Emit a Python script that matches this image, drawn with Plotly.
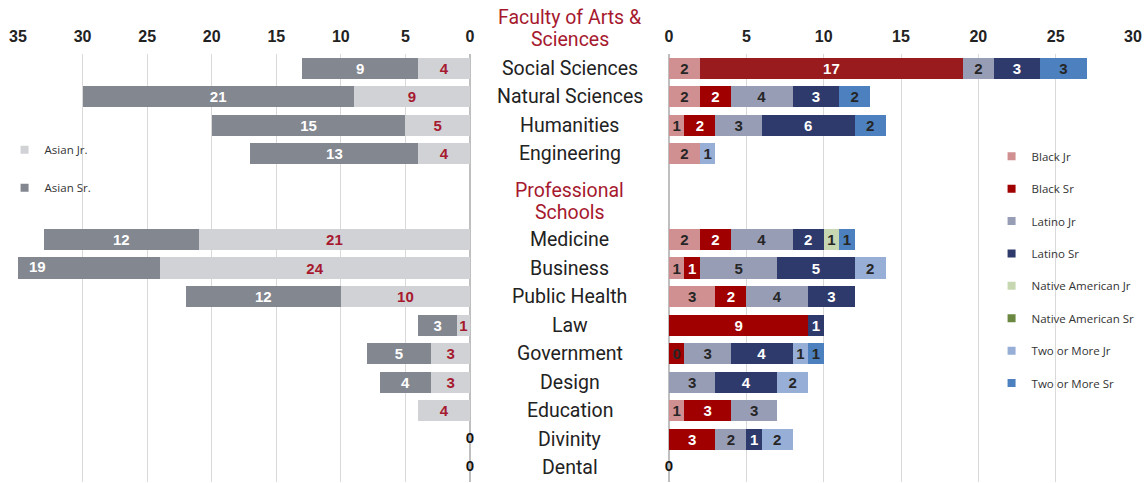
import plotly.graph_objects as go

# ---------------- data ----------------
fas_categories = ["Social Sciences", "Natural Sciences", "Humanities", "Engineering"]
prof_categories = ["Medicine", "Business", "Public Health", "Law", "Government",
                   "Design", "Education", "Divinity", "Dental"]
fas_header = ["Faculty of Arts &", "Sciences"]
prof_header = ["Professional", "Schools"]

asian_jr = [4, 9, 5, 4, 21, 24, 10, 1, 3, 3, 4, 0, 0]
asian_sr = [9, 21, 15, 13, 12, 19, 12, 3, 5, 4, 0, 0, 0]

black_jr = [2, 2, 1, 2, 2, 1, 3, 0, 0, 0, 1, 0, 0]
black_sr = [17, 2, 2, 0, 2, 1, 2, 9, 1, 0, 3, 3, 0]
latino_jr = [2, 4, 3, 0, 4, 5, 4, 0, 3, 3, 3, 2, 0]
latino_sr = [3, 3, 6, 0, 2, 5, 3, 1, 4, 4, 0, 1, 0]
native_jr = [0, 0, 0, 0, 1, 0, 0, 0, 0, 0, 0, 0, 0]
native_sr = [0, 0, 0, 0, 0, 0, 0, 0, 0, 0, 0, 0, 0]
two_jr = [0, 0, 0, 1, 0, 2, 0, 0, 1, 2, 0, 2, 0]
two_sr = [3, 2, 2, 0, 1, 0, 0, 0, 1, 0, 0, 0, 0]
# the Government "Black Sr" segment is labelled 0 in the source chart
black_sr_label_override = {8: "0"}

left_ticks = [35, 30, 25, 20, 15, 10, 5, 0]
right_ticks = [0, 5, 10, 15, 20, 25, 30]
LEFT_MAX = 35
RIGHT_MAX = 30

# ---------------- layout helpers ----------------
categories = fas_categories + prof_categories
gap_rows = 2
ypos = list(range(len(fas_categories))) + [len(fas_categories) + gap_rows + i for i in range(len(prof_categories))]
n_rows = len(fas_categories) + gap_rows + len(prof_categories)

RED_TXT = "#A6192E"
DARK_TXT = "#262626"
LBL_FONT = "Liberation Sans"
LBL_SIZE = 15
BAR_W = 0.74
LEG_FONT = dict(family="Open Sans", size=11.5, color="#333")


def labels(vals, override=None, starts=None, axmax=None):
    out = [str(v) if v != 0 else "" for v in vals]
    if starts is not None:
        for i, (s, v) in enumerate(zip(starts, vals)):
            if s + v > axmax:
                out[i] = ""  # drawn separately (bar runs past the axis)
    if override:
        for k, v in override.items():
            out[k] = v
    return out


def legend_entry(name, col, legend):
    # small square legend swatch tied to the bar trace of the same group
    return go.Scatter(x=[None], y=[None], mode="markers", name=name,
                      marker=dict(symbol="square", size=8, color=col),
                      legend=legend, legendgroup=name, showlegend=True,
                      xaxis="x2" if legend == "legend2" else "x", yaxis="y",
                      hoverinfo="skip")


fig = go.Figure()

# ---------- left panel (Asian) ----------
left_series = [
    ("Asian Jr.", asian_jr, "#D1D2D6", RED_TXT),
    ("Asian Sr.", asian_sr, "#83878F", "white"),
]
base = [0] * len(ypos)
overflow_pts = []
for name, vals, col, tcol in left_series:
    fig.add_trace(go.Bar(
        y=ypos, x=vals, orientation="h", name=name, width=BAR_W,
        marker=dict(color=col, line=dict(width=0)),
        text=labels(vals, starts=base, axmax=LEFT_MAX), textposition="inside",
        insidetextanchor="middle", textangle=0,
        textfont=dict(family=LBL_FONT, size=LBL_SIZE, color=tcol, weight="bold"),
        xaxis="x", yaxis="y", legendgroup=name, showlegend=False,
        hoverinfo="x+name",
    ))
    fig.add_trace(legend_entry(name, col, "legend"))
    for i, (s, v) in enumerate(zip(base, vals)):
        if v and s + v > LEFT_MAX:
            overflow_pts.append((s + v / 2, ypos[i], str(v), tcol))
    base = [b + v for b, v in zip(base, vals)]

if overflow_pts:
    fig.add_trace(go.Scatter(
        x=[p[0] for p in overflow_pts], y=[p[1] for p in overflow_pts],
        text=[p[2] for p in overflow_pts], mode="text", cliponaxis=False,
        textfont=dict(family=LBL_FONT, size=LBL_SIZE,
                      color=[p[3] for p in overflow_pts], weight="bold"),
        xaxis="x", yaxis="y", showlegend=False, hoverinfo="skip"))

# ---------- right panel ----------
right_series = [
    ("Black Jr", black_jr, "#D09091", DARK_TXT, None),
    ("Black Sr", black_sr, "#A00000", "white", black_sr_label_override),
    ("Latino Jr", latino_jr, "#989DB6", DARK_TXT, None),
    ("Latino Sr", latino_sr, "#2E3A6B", "white", None),
    ("Native American Jr", native_jr, "#C6D7B2", DARK_TXT, None),
    ("Native American Sr", native_sr, "#6A8840", "white", None),
    ("Two or More Jr", two_jr, "#97AED6", DARK_TXT, None),
    ("Two or More Sr", two_sr, "#4C80BE", DARK_TXT, None),
]
for name, vals, col, tcol, ov in right_series:
    cols = [col] * len(vals)
    tcols = [tcol] * len(vals)
    if name == "Black Sr":
        cols[0] = "#991B1E"
        for k in (ov or {}):
            tcols[k] = DARK_TXT
    fig.add_trace(go.Bar(
        y=ypos, x=vals, orientation="h", name=name, width=BAR_W,
        marker=dict(color=cols, line=dict(width=0)),
        text=labels(vals, ov), textposition="inside", insidetextanchor="middle",
        textangle=0,
        textfont=dict(family=LBL_FONT, size=LBL_SIZE, color=tcols, weight="bold"),
        xaxis="x2", yaxis="y", legendgroup=name, showlegend=False,
        hoverinfo="x+name",
    ))
    fig.add_trace(legend_entry(name, col, "legend2"))

# ---------- zero-total labels ----------
left_tot = [a + b for a, b in zip(asian_jr, asian_sr)]
right_tot = [sum(v) for v in zip(black_jr, black_sr, latino_jr, latino_sr,
                                 native_jr, native_sr, two_jr, two_sr)]
for tots, xa in ((left_tot, "x"), (right_tot, "x2")):
    zy = [y for y, t in zip(ypos, tots) if t == 0]
    fig.add_trace(go.Scatter(
        x=[0] * len(zy), y=zy, mode="text", text=["0"] * len(zy),
        textposition="middle center", cliponaxis=False,
        textfont=dict(family=LBL_FONT, size=LBL_SIZE, color="#111", weight="bold"),
        xaxis=xa, yaxis="y", showlegend=False, hoverinfo="skip",
    ))

# ---------- center labels ----------
CENTER_X = 0.4975
CAT_SIZE = 19.5
HEADER_LINE = 0.77  # line spacing of headers, in rows


def row_to_paper(r):
    return 1 - (r + 0.5) / n_rows


annots = []
for cat, y in zip(categories, ypos):
    annots.append(dict(text=cat, x=CENTER_X, xref="paper", y=y, yref="y",
                       showarrow=False, xanchor="center", yanchor="middle",
                       font=dict(family="Roboto", size=CAT_SIZE, color="#222")))
for lines, center in ((fas_header, -1.4), (prof_header, len(fas_categories) + 0.655)):
    for k, line in enumerate(lines):
        r = center + (k - (len(lines) - 1) / 2) * HEADER_LINE
        annots.append(dict(text=line, x=CENTER_X, xref="paper", y=row_to_paper(r),
                           yref="paper", showarrow=False, xanchor="center",
                           yanchor="middle",
                           font=dict(family="Roboto", size=CAT_SIZE, color=RED_TXT)))

tickfont = dict(family=LBL_FONT, size=16, color="#222", weight="bold")
W, H = 1145, 483

fig.update_layout(
    width=W, height=H,
    margin=dict(l=0, r=0, t=54, b=1, autoexpand=False),
    paper_bgcolor="white", plot_bgcolor="white",
    barmode="stack",
    uniformtext=dict(minsize=LBL_SIZE, mode="show"),
    showlegend=True,
    xaxis=dict(domain=[18 / W, 470 / W], range=[LEFT_MAX, 0], side="top", anchor="y",
               tickvals=left_ticks, tickfont=tickfont, showgrid=True,
               gridcolor="#D9D9D9", gridwidth=1, zeroline=True,
               zerolinecolor="#BFBFBF", zerolinewidth=2, ticks="",
               ticklabelstandoff=8, automargin=False, fixedrange=True),
    xaxis2=dict(domain=[669 / W, 1133 / W], range=[0, RIGHT_MAX], side="top", anchor="y",
                tickvals=right_ticks, tickfont=tickfont, showgrid=True,
                gridcolor="#D9D9D9", gridwidth=1, zeroline=True,
                zerolinecolor="#BFBFBF", zerolinewidth=2, ticks="",
                ticklabelstandoff=8, automargin=False, fixedrange=True),
    yaxis=dict(range=[n_rows - 0.5, -0.5], showticklabels=False, showgrid=False,
               zeroline=False, automargin=False, fixedrange=True),
    legend=dict(x=0.004, y=0.81, xanchor="left", yanchor="top",
                traceorder="grouped", tracegroupgap=19, itemwidth=30,
                bgcolor="rgba(0,0,0,0)", font=LEG_FONT),
    legend2=dict(x=0.866, y=0.795, xanchor="left", yanchor="top",
                 traceorder="grouped", tracegroupgap=13.4, itemwidth=30,
                 bgcolor="rgba(0,0,0,0)", font=LEG_FONT),
    annotations=annots,
)

fig.write_html("out.html", config={"displayModeBar": False},
               post_script="document.body.style.margin='0';document.body.style.padding='0';")
